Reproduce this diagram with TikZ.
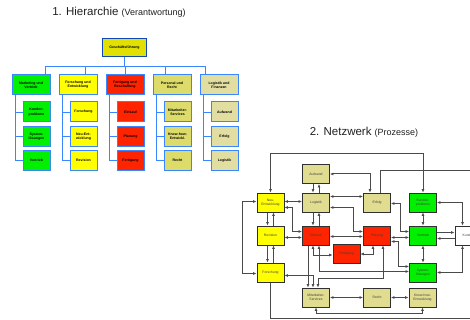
\documentclass[tikz,border=0pt]{standalone}
\usepackage{fontspec}
\setmainfont{Liberation Sans}
\usetikzlibrary{arrows.meta,calc}

\definecolor{hblue}{HTML}{3A86FF}
\definecolor{gfblue}{HTML}{1048B8}
\definecolor{gfyellow}{HTML}{E2E000}
\definecolor{cgreen}{HTML}{00F000}
\definecolor{cyellow}{HTML}{FFFF00}
\definecolor{cred}{HTML}{FF2400}
\definecolor{colive}{HTML}{DDDC6A}
\definecolor{ckhaki}{HTML}{E2DEA2}
\definecolor{nkhaki}{HTML}{E0DC90}
\definecolor{nline}{HTML}{4A4A4A}
\definecolor{nborder}{HTML}{303030}
\definecolor{ttext}{HTML}{202020}

\tikzset{
  hbox/.style={draw=hblue, line width=1pt, minimum width=38pt, minimum height=20pt,
    inner sep=0pt, align=center, font=\fontsize{3.5}{4.2}\selectfont\bfseries},
  hsub/.style={hbox, minimum width=27pt},
  hl/.style={draw=hblue, line width=0.9pt},
  nbox/.style={draw=nborder, line width=1pt, minimum width=27pt, minimum height=19pt,
    inner sep=0pt, align=center, font=\fontsize{3.4}{4.2}\selectfont, text=black!75},
  nl/.style={draw=nline, line width=1pt, >={Latex[length=3.4pt,width=3pt]}},
}

\begin{document}
\begin{tikzpicture}[x=1pt,y=-1pt]
\useasboundingbox (0,0) rectangle (470,320);

% titles
\node[text=ttext] (t1) at (119,12) {\fontsize{11.5}{13}\selectfont 1. Hierarchie {\fontsize{9}{10}\selectfont (Verantwortung)}};
\node[text=ttext] (t2) at (364,132) {\fontsize{11.5}{13}\selectfont 2. Netzwerk {\fontsize{9}{10}\selectfont (Prozesse)}};

% hierarchy
\node[hbox, draw=gfblue, line width=1.6pt, fill=gfyellow,
  minimum width=44pt, minimum height=18pt] (gf) at (124.5,47.5) {Geschäftsführung};

\node[hbox, fill=cgreen]  (mv) at (31,85)  {Marketing und\\Vertrieb};
\node[hbox, fill=cyellow] (fe) at (78,85)  {Forschung und\\Entwicklung};
\node[hbox, fill=cred]    (fb) at (125,85) {Fertigung und\\Beschaffung};
\node[hbox, fill=colive]  (pr) at (172,85) {Personal und\\Recht};
\node[hbox, fill=ckhaki]  (lf) at (219,85) {Logistik und\\Finanzen};

\node[hsub, fill=cgreen] (mv1) at (36.5,112)   {Kunden-\\probleme};
\node[hsub, fill=cgreen] (mv2) at (36.5,136.5) {System-\\lösungen};
\node[hsub, fill=cgreen] (mv3) at (36.5,160.5) {Vertrieb};
\node[hsub, fill=cyellow] (fe1) at (83.5,112)   {Forschung};
\node[hsub, fill=cyellow] (fe2) at (83.5,136.5) {Neu-Ent-\\wicklung};
\node[hsub, fill=cyellow] (fe3) at (83.5,160.5) {Revision};
\node[hsub, fill=cred] (fb1) at (130.5,112)   {Einkauf};
\node[hsub, fill=cred] (fb2) at (130.5,136.5) {Planung};
\node[hsub, fill=cred] (fb3) at (130.5,160.5) {Fertigung};
\node[hsub, fill=colive] (pr1) at (177.5,112)   {Mitarbeiter-\\Services};
\node[hsub, fill=colive] (pr2) at (177.5,136.5) {Know-how-\\Entwickl.};
\node[hsub, fill=colive] (pr3) at (177.5,160.5) {Recht};
\node[hsub, fill=ckhaki] (lf1) at (224.5,112)   {Aufwand};
\node[hsub, fill=ckhaki] (lf2) at (224.5,136.5) {Erfolg};
\node[hsub, fill=ckhaki] (lf3) at (224.5,160.5) {Logistik};

\draw[hl] (gf.south) -- ++(0,10);
\draw[hl] ($(mv.north)+(14,-8)$) -- ($(lf.north)+(-14,-8)$);
\draw[hl] ($(mv.north)+(14,-8)$) -- ($(mv.north)+(14,0)$);
\draw[hl] ($(fe.north)+(7,-8)$) -- ($(fe.north)+(7,0)$);
\draw[hl] ($(fb.north)+(0,-8)$) -- (fb.north);
\draw[hl] ($(pr.north)+(-7,-8)$) -- ($(pr.north)+(-7,0)$);
\draw[hl] ($(lf.north)+(-14,-8)$) -- ($(lf.north)+(-14,0)$);
\foreach \p in {mv,fe,fb,pr,lf}{
  \foreach \i in {1,2,3}
    \draw[hl] ($(\p.south west)+(4,0)$) |- (\p\i.west);
}

% network
\node[nbox, fill=nkhaki]  (aufwand)   at (316,174)     {Aufwand};
\node[nbox, fill=cyellow] (neuentw)   at (270.5,202.5) {Neu-\\Entwicklung};
\node[nbox, fill=nkhaki]  (logistik)  at (316,202.5)   {Logistik};
\node[nbox, fill=nkhaki]  (erfolg)    at (377,202.5)   {Erfolg};
\node[nbox, fill=cgreen]  (kprob)     at (423,202.5)   {Kunden-\\probleme};
\node[nbox, fill=cyellow] (revision)  at (270.5,235.5) {Revision};
\node[nbox, fill=cred]    (einkauf)   at (316,235.5)   {Einkauf};
\node[nbox, fill=cred]    (planung)   at (377,235.5)   {Planung};
\node[nbox, fill=cgreen]  (vertrieb)  at (423,235.5)   {Vertrieb};
\node[nbox, fill=white]   (kunden)    at (468.5,235.5) {Kunden};
\node[nbox, fill=cred]    (fertigung) at (346.5,254)   {Fertigung};
\node[nbox, fill=cyellow] (forschung) at (270.5,272.5) {Forschung};
\node[nbox, fill=cgreen]  (syslsg)    at (423,272.5)   {System-\\lösungen};
\node[nbox, fill=nkhaki]  (mitarb)    at (316,297.5)   {Mitarbeiter-\\Services};
\node[nbox, fill=nkhaki]  (recht)     at (377,297.5)   {Recht};
\node[nbox, fill=nkhaki]  (knowhow)   at (422.5,297.5) {Know-how-\\Entwicklung};

\draw[nl,->] ($(aufwand.south)+(-3,0)$) -- ($(logistik.north)+(-3,0)$);
\draw[nl,<-] ($(aufwand.south)+(3,0)$) -- ($(logistik.north)+(3,0)$);
\draw[nl,<->] (aufwand.east) -| ($(erfolg.north)+(-7,0)$);
\draw[nl,<->] ($(neuentw.east)+(0,-1)$) -- ($(logistik.west)+(0,-1)$);
\draw[nl,<->] ($(logistik.east)+(0,-6)$) -- ($(erfolg.west)+(0,-6)$);
\draw[nl,->] ($(neuentw.south)+(-3,0)$) -- ($(revision.north)+(-3,0)$);
\draw[nl,<-] ($(neuentw.south)+(3,0)$) -- ($(revision.north)+(3,0)$);
\draw[nl,->] ($(logistik.south)+(-3,0)$) -- ($(einkauf.north)+(-3,0)$);
\draw[nl,<-] ($(logistik.south)+(3,0)$) -- ($(einkauf.north)+(3,0)$);
\draw[nl,<->] ($(neuentw.east)+(0,5)$) -- ++(8,0) |- ($(einkauf.west)+(0,-4)$);
\draw[nl,<->] ($(revision.east)+(0,2)$) -- ($(einkauf.west)+(0,2)$);
\draw[nl,<->] ($(logistik.east)+(0,5)$) -- ++(23,0) |- ($(planung.west)+(0,-4)$);
\draw[nl,<->] ($(einkauf.east)+(0,1)$) -- ($(planung.west)+(0,1)$);
\draw[nl,<->] ($(erfolg.east)+(0,1)$) -- ++(9,0) |- ($(vertrieb.west)+(0,-4)$);
\draw[nl,<->] ($(planung.east)+(0,2)$) -- ($(vertrieb.west)+(0,2)$);
\draw[nl,<->] (kprob.south) -- (vertrieb.north);
\draw[nl,<->] (vertrieb.south) -- (syslsg.north);
\draw[nl,->] ($(vertrieb.east)+(0,-3)$) -- ($(kunden.west)+(0,-3)$);
\draw[nl,<-] ($(vertrieb.east)+(0,3)$) -- ($(kunden.west)+(0,3)$);
\draw[nl,<->] (kprob.east) -| ($(kunden.north)+(-6,0)$);
\draw[nl,<->] (syslsg.east) -| ($(kunden.south)+(-6,0)$);
\draw[nl,<->] ($(einkauf.south)+(-3,0)$) |- ($(fertigung.west)+(0,1)$);
\draw[nl,<->] (fertigung.east) -| ($(planung.south)+(-4,0)$);
\draw[nl,<->] ($(einkauf.south)+(3,0)$) |- ($(syslsg.west)+(0,-1)$);
\draw[nl,<->] ($(planung.east)+(0,6)$) -- ++(7,0) |- ($(syslsg.west)+(0,-6)$);
\draw[nl,->] ($(einkauf.south)+(-8,0)$) -- ($(mitarb.north)+(-8,0)$);
\draw[nl,<->] ($(forschung.east)+(0,3)$) -| ($(mitarb.north)+(-3,0)$);
\draw[nl,<->] ($(planung.south)+(6,0)$) -- ++(0,33) -| ($(mitarb.north)+(2,0)$);
\draw[nl,->] ($(revision.south)+(-3,0)$) -- ($(forschung.north)+(-3,0)$);
\draw[nl,<-] ($(revision.south)+(3,0)$) -- ($(forschung.north)+(3,0)$);
\draw[nl,<->] ($(neuentw.west)+(0,-1)$) -- ++(-14,0) |- ($(forschung.west)+(0,1)$);
\draw[nl,<->] (mitarb.east) -- (recht.west);
\draw[nl,<->] (recht.east) -- (knowhow.west);
\draw[nl,<->] (mitarb.south) -- ++(0,6) -| (knowhow.south);
\draw[nl,<->] (neuentw.north) -- ++(0,-39) -| (kprob.north);
\draw[nl,->] ($(erfolg.north)+(3,0)$) |- ($(kunden.east)+(8,-65)$) -- ($(kunden.east)+(8,0)$) -- (kunden.east);
\draw[nl,->] (forschung.south) |- ($(kunden.east)+(8,83)$) -- ($(kunden.east)+(8,0)$) -- (kunden.east);
\end{tikzpicture}
\end{document}
